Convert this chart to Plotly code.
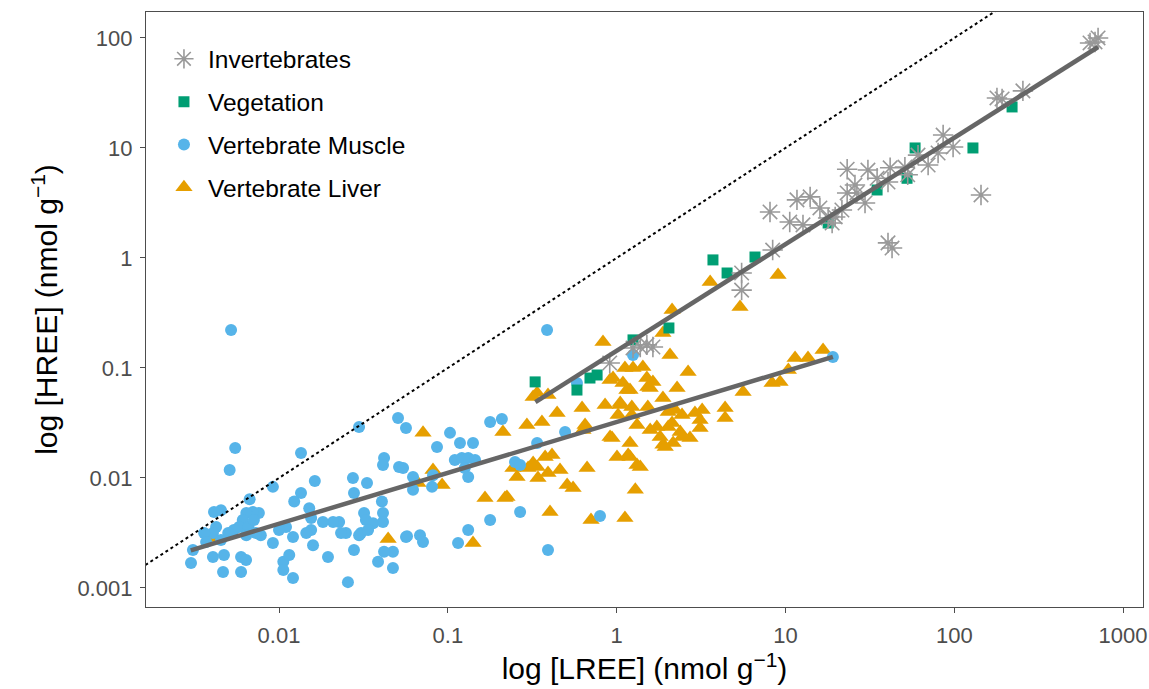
import plotly.graph_objects as go

# ---------------- data ----------------
inv_x = [637, 711, 682, 192, 255, 179, 85.9, 98.4, 80.2, 70, 61, 51, 53, 144,
         41.7, 30.8, 23.2, 40.5, 34.9, 29.6, 26.5, 23.2, 21.6, 19.7, 17.9, 12.7,
         10.6, 11.7, 14, 8.1, 8.4, 5.5, 5.5, 40.5, 42.8, 18.9, 1.51, 1.64, 0.91,
         1.38, 1.25, 25.8, 16]
inv_y = [90.1, 100, 92, 27.9, 33, 28.5, 13.1, 10.2, 9.0, 7.0, 8.6, 6.7, 5.7, 3.74,
         6.6, 6.3, 6.4, 4.9, 5.3, 3.16, 3.9, 3.9, 2.73, 2.36, 2.31, 2.0,
         2.12, 3.37, 3.59, 2.62, 1.18, 0.73, 0.51, 1.37, 1.23, 2.08, 0.162, 0.155, 0.111,
         0.155, 0.152, 4.6, 2.85]

veg_x = [0.329, 0.582, 0.695, 0.766, 1.25, 2.04, 3.72, 4.51, 6.6, 17.9, 34.9,
         52.5, 58.6, 129, 220]
veg_y = [0.0747, 0.063, 0.081, 0.0863, 0.18, 0.231, 0.96, 0.73, 1.02, 2.08, 4.15,
         5.3, 10, 10, 23.6]

mus_x = [0.0052, 0.0055, 0.0051, 0.0135, 0.0298, 0.0507, 0.0565, 0.0092, 0.0067, 0.0163,
         0.0274, 0.0332, 0.0278, 0.0419, 0.0413, 0.0514, 0.0135, 0.0123, 0.0151, 0.0407,
         0.0413, 0.0319, 0.0327, 0.0361, 0.0413, 0.0306, 0.0249, 0.0227, 0.0209, 0.0182,
         0.0155, 0.0155, 0.0145, 0.0159, 0.0121, 0.011, 0.01, 0.0078, 0.0076, 0.0070,
         0.0064, 0.0061, 0.0058, 0.0066, 0.0071, 0.0073, 0.0064, 0.0054, 0.0050, 0.00453,
         0.00412, 0.00424, 0.00406, 0.0036, 0.0037, 0.00453, 0.00472, 0.00406, 0.00309, 0.00301,
         0.00466, 0.00596, 0.00638, 0.00596, 0.0092, 0.0106, 0.0115, 0.0106, 0.0121, 0.0195,
         0.0256, 0.0233, 0.0278, 0.0298, 0.0337, 0.0386, 0.0473, 0.0473, 0.0419, 0.0565,
         0.0863, 0.103, 0.118, 0.141, 0.110, 0.121, 0.132, 0.145, 0.126, 0.132,
         0.0543, 0.0622, 0.0622, 0.0806, 0.0817, 0.178, 0.209, 0.495, 0.338, 0.25,
         0.268, 0.268, 0.178, 0.132, 0.115, 0.0573, 0.0684, 0.0713, 0.392, 0.797,
         0.387, 1.25, 19.1, 0.582]
mus_y = [0.221, 0.0187, 0.0118, 0.0169, 0.0291, 0.0351, 0.0285, 0.0083, 0.0064, 0.0094,
         0.0100, 0.0090, 0.0073, 0.0152, 0.0131, 0.0126, 0.0073, 0.0061, 0.0053, 0.0061,
         0.0048, 0.0048, 0.00415, 0.00388, 0.00397, 0.00316, 0.00316, 0.00397, 0.00397, 0.00397,
         0.00432, 0.00336, 0.00316, 0.00245, 0.0029, 0.00359, 0.00336, 0.00302, 0.0048, 0.0049,
         0.0048, 0.00415, 0.00359, 0.00359, 0.00415, 0.00316, 0.00302, 0.00336, 0.00316, 0.0051,
         0.0049, 0.00359, 0.00316, 0.00316, 0.00262, 0.00273, 0.00199, 0.00191, 0.00221, 0.00169,
         0.0014, 0.00191, 0.0018, 0.0014, 0.00256, 0.00173, 0.00199, 0.00146, 0.00123, 0.00191,
         0.00113, 0.00316, 0.00221, 0.00302, 0.00336, 0.00173, 0.00152, 0.00213, 0.00213, 0.0029,
         0.0191, 0.0257, 0.0208, 0.0208, 0.0146, 0.0152, 0.0152, 0.0146, 0.0123, 0.0102,
         0.0123, 0.0102, 0.0078, 0.0083, 0.0106, 0.0323, 0.0344, 0.0262, 0.0208, 0.014,
         0.0131, 0.0049, 0.00415, 0.00336, 0.00256, 0.00296, 0.00302, 0.00262, 0.00221, 0.00452,
         0.221, 0.131, 0.126, 0.0731]

liv_x = [0.00396, 0.0443, 0.0713, 0.0817, 0.0925, 0.0665, 0.141, 0.166, 0.218, 0.212,
         0.294, 0.361, 0.257, 0.403, 0.320, 0.338, 0.377, 0.392, 0.342, 0.705,
         1.12, 0.444, 0.624, 0.650, 0.854, 1.05, 1.20, 1.09, 0.914, 0.392,
         0.939, 1.20, 1.005, 1.20, 1.32, 0.668, 0.462, 0.414, 0.299, 0.509,
         0.552, 0.243, 1.29, 2.13, 0.830, 1.88, 2.07, 1.12, 1.25, 1.43,
         0.952, 1.51, 1.64, 2.65, 2.28, 1.15, 1.58, 1.88, 1.05, 1.23,
         1.53, 1.02, 1.23, 2.02, 2.44, 2.91, 1.32, 1.73, 2.13, 2.38,
         0.914, 1.81, 1.88, 2.16, 2.72, 1.17, 0.224, 3.58, 5.38, 9.04,
         3.21, 4.39, 4.39, 3.12, 3.12, 2.44, 2.02, 1.58, 5.61, 8.33,
         9.29, 10.4, 11.4, 13.6, 16.7, 1.38, 0.632, 0.320, 0.261, 1.94,
         1.53, 2.22, 0.338]
liv_y = [0.00285, 0.00279, 0.0257, 0.0118, 0.00863, 0.0090, 0.00256, 0.00658, 0.00658, 0.0262,
         0.0303, 0.0323, 0.0102, 0.0049, 0.0545, 0.0126, 0.0155, 0.0111, 0.0100, 0.00415,
         0.00432, 0.039, 0.0433, 0.0303, 0.0461, 0.0461, 0.063, 0.073, 0.0778, 0.0569,
         0.0231, 0.0208, 0.0155, 0.0155, 0.0131, 0.0123, 0.0118, 0.0162, 0.0123, 0.00863,
         0.00811, 0.0123, 0.0078, 0.336, 0.172, 0.208, 0.131, 0.100, 0.100, 0.102,
         0.0811, 0.0811, 0.0746, 0.092, 0.0658, 0.063, 0.0658, 0.0534, 0.0481, 0.0442,
         0.0442, 0.0374, 0.0374, 0.0398, 0.0374, 0.039, 0.0303, 0.0291, 0.0316, 0.0262,
         0.0236, 0.0236, 0.0200, 0.0208, 0.0231, 0.0162, 0.00672, 0.605, 0.359, 0.700,
         0.0415, 0.0433, 0.0351, 0.0337, 0.0285, 0.0236, 0.0291, 0.0273, 0.0605, 0.073,
         0.0746, 0.0959, 0.123, 0.123, 0.146, 0.0126, 0.0273, 0.0137, 0.0126, 0.0191,
         0.0672, 0.0415, 0.0593]

# fitted regression lines (end points)
fit_upper_x = [0.33, 711]
fit_upper_y = [0.049, 82.8]
fit_lower_x = [0.003, 19.1]
fit_lower_y = [0.0022, 0.126]
one_to_one = [0.001, 1000]

x_ticks = [0.01, 0.1, 1, 10, 100, 1000]
x_ticktext = ["0.01", "0.1", "1", "10", "100", "1000"]
y_ticks = [0.001, 0.01, 0.1, 1, 10, 100]
y_ticktext = ["0.001", "0.01", "0.1", "1", "10", "100"]

# ---------------- figure ----------------
C_INV = "#999999"
C_VEG = "#009E73"
C_MUS = "#56B4E9"
C_LIV = "#E69F00"

fig = go.Figure()
fig.add_trace(go.Scatter(x=liv_x, y=liv_y, mode="markers", name="Vertebrate Liver",
                         legendrank=4, legendgroup="d",
                         marker=dict(symbol="triangle-up", size=15, color=C_LIV,
                                     line=dict(width=0))))
fig.add_trace(go.Scatter(x=mus_x, y=mus_y, mode="markers", name="Vertebrate Muscle",
                         legendrank=3, legendgroup="c",
                         marker=dict(symbol="circle", size=12, color=C_MUS,
                                     line=dict(width=0))))
fig.add_trace(go.Scatter(x=veg_x, y=veg_y, mode="markers", name="Vegetation",
                         legendrank=2, legendgroup="b",
                         marker=dict(symbol="square", size=11, color=C_VEG,
                                     line=dict(width=0))))
fig.add_trace(go.Scatter(x=inv_x, y=inv_y, mode="markers", name="Invertebrates",
                         legendrank=1, legendgroup="a",
                         marker=dict(symbol="asterisk-open", size=17, color=C_INV,
                                     line=dict(width=1.6, color=C_INV))))
fig.add_trace(go.Scatter(x=one_to_one, y=one_to_one, mode="lines", showlegend=False,
                         line=dict(color="black", width=2, dash="dot"), hoverinfo="skip"))
fig.add_trace(go.Scatter(x=fit_upper_x, y=fit_upper_y, mode="lines", showlegend=False,
                         line=dict(color="#666666", width=4.5), hoverinfo="skip"))
fig.add_trace(go.Scatter(x=fit_lower_x, y=fit_lower_y, mode="lines", showlegend=False,
                         line=dict(color="#666666", width=4.5), hoverinfo="skip"))

axis_common = dict(type="log", showgrid=False, zeroline=False, showline=True,
                   linecolor="#4d4d4d", linewidth=1.3, mirror=True,
                   ticks="outside", ticklen=5, tickwidth=1.3, tickcolor="#4d4d4d",
                   tickfont=dict(size=22, color="#4d4d4d"), automargin=False,
                   ticklabelstandoff=3)

fig.update_layout(
    width=1149, height=689,
    margin=dict(l=146, r=6, t=12, b=82),
    paper_bgcolor="white", plot_bgcolor="white",
    font=dict(family="Liberation Sans, Arial, sans-serif", color="black"),
    xaxis=dict(range=[-2.788, 3.118], tickvals=x_ticks, ticktext=x_ticktext,
               title=dict(text="log [LREE] (nmol g<sup>\u22121</sup>)",
                          font=dict(size=30), standoff=8),
               **axis_common),
    yaxis=dict(range=[-3.173, 2.236], tickvals=y_ticks, ticktext=y_ticktext,
               title=dict(text="log [HREE] (nmol g<sup>\u22121</sup>)",
                          font=dict(size=30), standoff=10),
               **axis_common),
    legend=dict(x=0.014, y=0.959, xanchor="left", yanchor="top",
                bgcolor="rgba(0,0,0,0)", font=dict(size=24.5),
                traceorder="grouped", tracegroupgap=8, itemwidth=38,
                itemsizing="trace"),
    showlegend=True,
)

fig.write_html("out.html", config={"displayModeBar": False},
               post_script="document.body.style.margin='0px';")
